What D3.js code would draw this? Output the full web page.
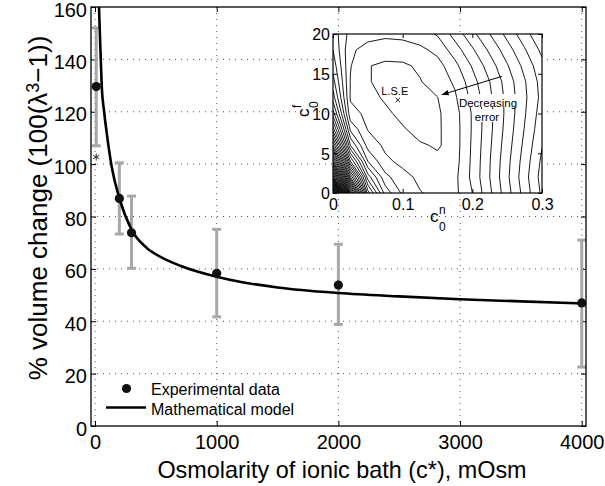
<!DOCTYPE html>
<html lang="en">
<head>
<meta charset="utf-8">
<title>Volume change vs osmolarity</title>
<script src="https://d3js.org/d3.v7.min.js"></script>
<style>
  body { margin: 0; background: #fff; }
  svg { display: block; font-family: "Liberation Sans", Arial, Helvetica, sans-serif; }
  .grid line { stroke: #555; stroke-width: 1; stroke-dasharray: 1,5; }
  .axis path { display: none; }
  .axis line { stroke: #000; stroke-width: 1; }
  .axis text { fill: #000; }
  .errbar { stroke: #a8a8a8; stroke-width: 3; fill: none; }
  .contour { fill: none; stroke: #000; stroke-width: 0.9; }
</style>
</head>
<body>
<svg id="chart" width="605" height="486"></svg>
<script>
// experimental points (osmolarity in mOsm, % volume change)
const osm = [10, 200, 300, 1000, 2000, 4000];
const volMean = [129.6, 86.9, 73.8, 58.3, 53.8, 47.0];
const volHigh = [152, 100.5, 87.8, 75.1, 69.4, 71.0];
const volLow = [107, 73.3, 60.2, 41.7, 38.8, 22.5];
const starPoint = [10, 102.7];

// mathematical model
const modelOsm = [28, 33, 40, 55, 75, 96, 137, 200, 300, 425, 550, 700, 1000, 1200, 1500, 2000, 2500, 3000, 3500, 4000];
const modelVol = [172, 160, 150, 130, 120, 112, 99, 87, 75, 68, 64.3, 61.2, 57, 55, 52.9, 50.8, 49.5, 48.4, 47.6, 46.8];

const xTicks = [0, 1000, 2000, 3000, 4000];
const yTicks = [0, 20, 40, 60, 80, 100, 120, 140, 160];

// inset: error surface, contour count at each node
const c0n = [0, 0.025, 0.05, 0.075, 0.1, 0.125, 0.15, 0.175, 0.2, 0.225, 0.25, 0.275, 0.3];
const c0f = [20, 18, 16, 14, 12, 10, 8, 6, 4, 2, 0];
const errorGrid = [
  [4.6, 2.6, 2.3, 2.2, 2.3, 2.6, 3.1, 4.4, 5.7, 7.0, 8.3, 9.6, 10.9],
  [5.0, 2.15, 1.7, 1.5, 1.5, 1.75, 2.3, 3.5, 4.85, 6.2, 7.55, 8.9, 10.25],
  [5.6, 2.05, 1.05, 0.8, 0.85, 1.15, 1.6, 2.7, 4.1, 5.5, 6.9, 8.3, 9.7],
  [6.4, 1.95, 1.1, 0.6, 0.5, 0.95, 1.45, 2.15, 3.6, 5.0, 6.45, 7.9, 9.4],
  [7.5, 1.9, 1.5, 0.8, 0.35, 0.45, 0.98, 1.85, 3.3, 4.8, 6.3, 7.8, 9.3],
  [9.5, 2.3, 1.8, 1.3, 0.6, 0.35, 0.85, 1.6, 3.1, 4.7, 6.3, 7.9, 9.5],
  [12.5, 3.8, 1.95, 1.6, 1.15, 0.5, 0.85, 1.55, 3.1, 4.75, 6.4, 8.05, 9.7],
  [17, 6.0, 2.6, 1.8, 1.5, 1.15, 0.85, 1.55, 3.15, 4.85, 6.55, 8.25, 9.95],
  [24, 10, 4.0, 2.2, 1.75, 1.5, 1.3, 1.6, 3.2, 4.95, 6.7, 8.45, 10.2],
  [35, 16, 6.5, 3.3, 2.3, 1.8, 1.6, 1.75, 3.25, 5.0, 6.8, 8.6, 10.4],
  [55, 24, 9.5, 4.6, 2.8, 2.05, 1.75, 1.75, 3.0, 4.8, 6.6, 8.4, 10.2]
];
const insetXTicks = [0, 0.1, 0.2, 0.3];
const insetYTicks = [0, 5, 10, 15, 20];
const lse = [0.093, 11.7];

const svg = d3.select("#chart");
svg.append("rect").attr("width", 605).attr("height", 486).attr("fill", "#fff");
const defs = svg.append("defs");

const pLeft = 91, pRight = 586, pTop = 7, pBottom = 426;
const x = d3.scaleLinear().domain([-33, 4035]).range([pLeft, pRight]);
const y = d3.scaleLinear().domain([0, 160]).range([pBottom, pTop]);

defs.append("clipPath").attr("id", "plotclip")
  .append("rect").attr("x", pLeft).attr("y", pTop).attr("width", pRight - pLeft).attr("height", pBottom - pTop);

// dotted grid
const grid = svg.append("g").attr("class", "grid");
grid.selectAll(".gx").data(xTicks).enter().append("line")
  .attr("x1", d => x(d)).attr("x2", d => x(d)).attr("y1", pTop).attr("y2", pBottom);
grid.selectAll(".gy").data(yTicks.slice(1, -1)).enter().append("line")
  .attr("x1", pLeft).attr("x2", pRight).attr("y1", d => y(d)).attr("y2", d => y(d));

// axes with inward ticks
svg.append("g").attr("class", "axis").attr("transform", "translate(0," + pBottom + ")")
  .style("font-size", "20px")
  .call(d3.axisBottom(x).tickValues(xTicks).tickFormat(d3.format("d")).tickSize(-5).tickPadding(9));
svg.append("g").attr("class", "axis").attr("transform", "translate(" + pLeft + ",0)")
  .style("font-size", "20px")
  .call(d3.axisLeft(y).tickValues(yTicks).tickSize(-5).tickPadding(4))
  .selectAll("text").attr("dy", "0.45em");
svg.append("g").attr("class", "axis").attr("transform", "translate(0," + pTop + ")")
  .call(d3.axisTop(x).tickValues(xTicks).tickFormat("").tickSize(-5));
svg.append("g").attr("class", "axis").attr("transform", "translate(" + pRight + ",0)")
  .call(d3.axisRight(y).tickValues(yTicks).tickFormat("").tickSize(-5));

// error bars
const capW = 4.5;
const bars = svg.append("g");
osm.forEach((c, i) => {
  const cx = x(c);
  bars.append("line").attr("class", "errbar").attr("x1", cx).attr("x2", cx).attr("y1", y(volLow[i])).attr("y2", y(volHigh[i]));
  bars.append("line").attr("class", "errbar").attr("x1", cx - capW).attr("x2", cx + capW).attr("y1", y(volLow[i])).attr("y2", y(volLow[i]));
  bars.append("line").attr("class", "errbar").attr("x1", cx - capW).attr("x2", cx + capW).attr("y1", y(volHigh[i])).attr("y2", y(volHigh[i]));
});

// model curve
const line = d3.line().x(d => x(d[0])).y(d => y(d[1])).curve(d3.curveMonotoneX);
svg.append("path")
  .attr("clip-path", "url(#plotclip)")
  .attr("d", line(modelOsm.map((c, i) => [c, modelVol[i]])))
  .attr("fill", "none").attr("stroke", "#000").attr("stroke-width", 2.6);

// data points
svg.selectAll(".pt").data(osm).enter().append("circle")
  .attr("cx", d => x(d)).attr("cy", (d, i) => y(volMean[i])).attr("r", 4.6).attr("fill", "#111");

svg.append("path")
  .attr("d", d3.symbol(d3.symbolAsterisk, 36)())
  .attr("transform", "translate(" + x(starPoint[0]) + "," + y(starPoint[1]) + ")")
  .attr("fill", "none").attr("stroke", "#333").attr("stroke-width", 1);

// border
svg.append("rect").attr("x", pLeft).attr("y", pTop).attr("width", pRight - pLeft).attr("height", pBottom - pTop)
  .attr("fill", "none").attr("stroke", "#000").attr("stroke-width", 1.3);

// axis titles
svg.append("text").attr("x", 342).attr("y", 478).attr("text-anchor", "middle")
  .style("font-size", "23.4px").text("Osmolarity of ionic bath (c*), mOsm");
const yt = svg.append("text").attr("transform", "translate(47,208) rotate(-90)").attr("text-anchor", "middle")
  .style("font-size", "26px");
yt.append("tspan").text("% volume change (100(\u03bb");
yt.append("tspan").attr("dy", "-0.45em").style("font-size", "18px").text("3");
yt.append("tspan").attr("dy", "0.3em").text("\u22121))");

// legend
svg.append("circle").attr("cx", 126.5).attr("cy", 388.5).attr("r", 4.6).attr("fill", "#111");
svg.append("line").attr("x1", 106).attr("x2", 146).attr("y1", 407.5).attr("y2", 407.5).attr("stroke", "#000").attr("stroke-width", 2.6);
svg.append("text").attr("x", 151).attr("y", 395).style("font-size", "16px").text("Experimental data");
svg.append("text").attr("x", 151).attr("y", 414.5).style("font-size", "16px").text("Mathematical model");

// ---- inset ----
const il = 333, ir = 542, it = 34, ib = 193;
const ix = d3.scaleLinear().domain([0, 0.3]).range([il, ir]);
const iy = d3.scaleLinear().domain([0, 20]).range([ib, it]);

svg.append("rect").attr("x", il).attr("y", it).attr("width", ir - il).attr("height", ib - it).attr("fill", "#fff");
defs.append("clipPath").attr("id", "insetclip")
  .append("rect").attr("x", il).attr("y", it).attr("width", ir - il).attr("height", ib - it);

const nx = c0n.length, ny = c0f.length;
const du = c0n[1] - c0n[0], dv = c0f[0] - c0f[1];
const contours = d3.contours().size([nx, ny]).thresholds(d3.range(1, 55))(errorGrid.flat());
const proj = d3.geoTransform({
  point: function(px, py) {
    this.stream.point(ix(c0n[0] + (px - 0.5) * du), iy(c0f[0] - (py - 0.5) * dv));
  }
});
const cpath = d3.geoPath(proj);
svg.append("g").attr("clip-path", "url(#insetclip)")
  .selectAll("path").data(contours).enter().append("path")
  .attr("class", "contour").attr("d", cpath);

svg.append("g").attr("class", "axis").attr("transform", "translate(0," + ib + ")")
  .style("font-size", "16px")
  .call(d3.axisBottom(ix).tickValues(insetXTicks).tickFormat(d3.format("~g")).tickSize(-4).tickPadding(5.5));
svg.append("g").attr("class", "axis").attr("transform", "translate(" + il + ",0)")
  .style("font-size", "16px")
  .call(d3.axisLeft(iy).tickValues(insetYTicks).tickSize(-4).tickPadding(3))
  .selectAll("text").attr("dy", "0.36em");
svg.append("g").attr("class", "axis").attr("transform", "translate(0," + it + ")")
  .call(d3.axisTop(ix).tickValues(insetXTicks).tickFormat("").tickSize(-4));
svg.append("g").attr("class", "axis").attr("transform", "translate(" + ir + ",0)")
  .call(d3.axisRight(iy).tickValues(insetYTicks).tickFormat("").tickSize(-4));
svg.append("rect").attr("x", il).attr("y", it).attr("width", ir - il).attr("height", ib - it)
  .attr("fill", "none").attr("stroke", "#000").attr("stroke-width", 1.2);

// inset axis labels c_0^n and c_0^f
const xl = svg.append("g").attr("transform", "translate(430,222)").style("font-size", "17px");
xl.append("text").text("c");
xl.append("text").attr("x", 9).attr("y", -8).style("font-size", "12px").text("n");
xl.append("text").attr("x", 9).attr("y", 9).style("font-size", "12px").text("0");
const yl = svg.append("g").attr("transform", "translate(309,117) rotate(-90)").style("font-size", "17px");
yl.append("text").text("c");
yl.append("text").attr("x", 9).attr("y", -8).style("font-size", "12px").text("f");
yl.append("text").attr("x", 9).attr("y", 9).style("font-size", "12px").text("0");

// annotations
svg.append("text").attr("x", ix(lse[0]) - 3).attr("y", iy(lse[1]) - 5).attr("text-anchor", "middle")
  .style("font-size", "11px").text("L.S.E");
svg.append("path").attr("d", d3.symbol(d3.symbolX, 14)())
  .attr("transform", "translate(" + ix(lse[0]) + "," + iy(lse[1]) + ")")
  .attr("stroke", "#000").attr("stroke-width", 0.9).attr("fill", "none");

defs.append("marker").attr("id", "arrow")
  .attr("viewBox", "0 0 10 10").attr("refX", 10).attr("refY", 5)
  .attr("markerWidth", 7).attr("markerHeight", 7).attr("orient", "auto")
  .attr("markerUnits", "userSpaceOnUse")
  .append("path").attr("d", "M0,1 L10,5 L0,9 Z").attr("fill", "#000");
svg.append("line")
  .attr("x1", ix(0.2425)).attr("y1", iy(14.67)).attr("x2", ix(0.156)).attr("y2", iy(12.36))
  .attr("stroke", "#000").attr("stroke-width", 1).attr("marker-end", "url(#arrow)");
svg.append("rect").attr("x", 459).attr("y", 94).attr("width", 59).attr("height", 13).attr("fill", "#fff");
svg.append("rect").attr("x", 473).attr("y", 109).attr("width", 29).attr("height", 13).attr("fill", "#fff");
svg.append("text").attr("x", 488).attr("y", 106.5).attr("text-anchor", "middle").style("font-size", "11.5px").text("Decreasing");
svg.append("text").attr("x", 487).attr("y", 120.5).attr("text-anchor", "middle").style("font-size", "11.5px").text("error");
</script>
</body>
</html>
